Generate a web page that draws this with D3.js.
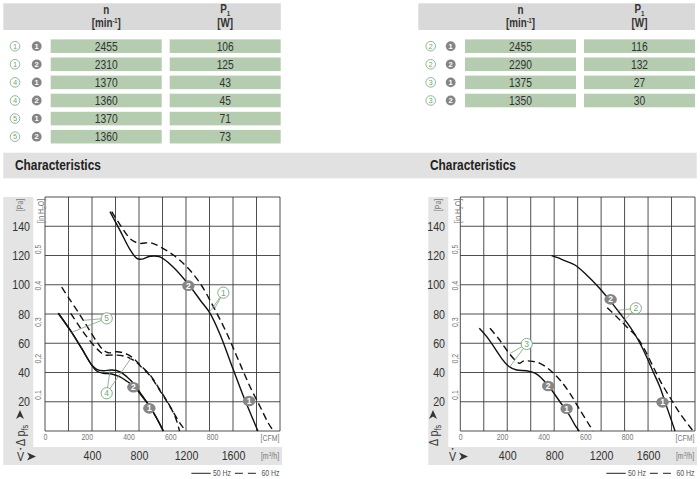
<!DOCTYPE html>
<html>
<head>
<meta charset="utf-8">
<script src="https://cdn.jsdelivr.net/npm/d3@7"></script>
<style>
  body { margin: 0; background: #fff; }
  svg { font-family: 'Liberation Sans', Arial, sans-serif; }
</style>
</head>
<body>
<svg id="chart" width="700" height="479"></svg>
<script>
// ---- table data ----
var leftFans = [1, 1, 4, 4, 5, 5];
var leftPoints = [1, 2, 1, 2, 1, 2];
var leftSpeed = [2455, 2310, 1370, 1360, 1370, 1360];
var leftPower = [106, 125, 43, 45, 71, 73];

var rightFans = [2, 2, 3, 3];
var rightPoints = [1, 2, 1, 2];
var rightSpeed = [2455, 2290, 1375, 1350];
var rightPower = [116, 132, 27, 30];

// ---- axis ticks ----
var paTicks = [20, 40, 60, 80, 100, 120, 140];
var inH2OTicks = [0.1, 0.2, 0.3, 0.4, 0.5];
var cfmTicks = [0, 200, 400, 600, 800];
var m3hTicks = [400, 800, 1200, 1600];
var gridFlow = d3.range(0, 2001, 200);
var gridPa = d3.range(0, 161, 20);

// ---- curves, [m3/h, Pa] ----
var fan1Solid = [[553,150],[639,137],[724,124],[781,118],[823,117.5],[894,119.5],[979,119],[1092,112],[1224,100],[1320,89.6],[1405,80.5],[1490,66],[1600,42.5],[1700,21.5],[1770,8],[1812,0]];
var fan1Dashed = [[568,150],[639,141],[738,130.6],[809,128.3],[894,128.8],[979,126],[1092,120.3],[1206,112.3],[1320,101],[1433,85],[1547,66.8],[1646,48.5],[1745,30.3],[1831,16.6],[1901,5.3],[1944,0]];
var fan45SolidA = [[113,80.5],[213,69.1],[312,56.5],[398,45.1],[440,42.2],[496,41.2],[568,41.7],[639,40.5],[696,37.1],[752,32.6],[823,24.6],[894,16.6],[951,8.7],[1009,0]];
var fan45SolidB = [[113,80.5],[213,69.1],[312,56.5],[398,45.1],[440,41],[496,39.4],[568,39],[639,37],[696,34],[752,31],[823,24],[894,16.4],[951,8.6],[1005,0]];
var fan45DashedA = [[142,98.3],[213,89.6],[298,79.3],[369,70.2],[440,61.1],[496,55.4],[539,53.5],[610,54.2],[696,52.6],[752,49.7],[809,45.1],[894,38.3],[979,28],[1050,18.9],[1107,10.9],[1160,4],[1200,0]];
var fan45DashedB = [[219,80.5],[284,72.5],[355,64.5],[426,57.6],[468,54.2],[511,52],[582,52],[667,51.3],[724,49.7],[780,47],[809,44.6],[894,37.8],[979,27.5],[1050,18.5],[1107,10],[1145,0]];

var fan2Solid = [[778,119.9],[830,118.5],[877,116.9],[977,113.5],[1076,106.7],[1175,98.7],[1260,90.7],[1360,80.5],[1445,71.3],[1516,62.2],[1587,50.8],[1643,40.5],[1700,30.3],[1757,17],[1800,7],[1830,0]];
var fan2Dashed = [[1252,84.3],[1332,78.2],[1417,71.3],[1502,64.5],[1573,55.4],[1643,44],[1715,32.6],[1800,21.2],[1871,12.1],[1956,2.9],[1984,0]];
var fan3Solid = [[162,70.2],[225,64.5],[295,56.5],[352,49.7],[409,44.4],[480,41.7],[565,41.2],[636,39.5],[707,34.9],[778,28],[849,20],[920,12.1],[977,4.1],[1013,0]];
var fan3Dashed = [[253,70.2],[324,63.4],[395,55.4],[466,48.5],[505,46.3],[536,47.8],[593,47.8],[679,46.3],[764,41.7],[849,34.9],[934,25.8],[1019,14.4],[1090,5.3],[1132,0]];

// ---- curve labels ----
var greyLeft = [[1220,99.4,"2"],[1737,20.5,"1"],[752,29.9,"2"],[888,15.5,"1"]];
var greenLeft = [
  {x: 1518, y: 94.6, t: "1", ends: [[1400,81.3],[1445,84]]},
  {x: 525, y: 77, t: "5", ends: [[227,67.5],[326,75.7]]},
  {x: 525, y: 25.8, t: "4", ends: [[553,41],[738,50.5]]}
];
var greyRight = [[1281,90,"2"],[1723,19.6,"1"],[749,30.8,"2"],[906,15.2,"1"]];
var greenRight = [
  {x: 1496, y: 83.9, t: "2", ends: [[1340,82.5],[1380,74.3]]},
  {x: 566, y: 59.5, t: "3", ends: [[423,53],[423,44]]}
];

var svg = d3.select("#chart");
var textCol = "#333";
var green = "#76a57b";
var greyDot = "#858585";
var cellGreen = "#b5ccb1";
var bandGrey = "#e4e4e4";
var NARROW = 0.82;   // the sheet uses a condensed face

// text placed with a horizontal squeeze
function label(g, x, y, size, fill, anchor) {
  return g.append("text")
    .attr("transform", "translate(" + x + "," + y + ") scale(" + NARROW + ",1)")
    .attr("text-anchor", anchor || "start")
    .attr("font-size", size)
    .attr("fill", fill);
}

// ---------- tables ----------
function drawTable(cfg, fans, points, speed, power) {
  var n = fans.length, step = 18.1;
  var rowY = d3.scaleBand()
    .domain(d3.range(n))
    .range([39.4, 39.4 + step * (n - 0.25)])
    .paddingInner(0.25);

  var g = svg.append("g");
  g.append("rect").attr("x", cfg.headX).attr("y", 3.3)
    .attr("width", cfg.headW).attr("height", 26.7).attr("fill", "#d9d9d9");

  var c1 = cfg.col1 + cfg.colW / 2, c2 = cfg.col2 + cfg.colW / 2;
  label(g, c1, 13.5, 12, textCol, "middle").attr("font-weight", "bold").text("n");
  var t = label(g, c1, 26.5, 12, textCol, "middle").attr("font-weight", "bold");
  t.append("tspan").text("[min");
  t.append("tspan").attr("dy", -4).attr("font-size", 7).text("-1");
  t.append("tspan").attr("dy", 4).text("]");
  var p = label(g, c2, 12.5, 12, textCol, "middle").attr("font-weight", "bold");
  p.append("tspan").text("P");
  p.append("tspan").attr("dy", 3).attr("font-size", 7.5).text("1");
  label(g, c2, 26.5, 12, textCol, "middle").attr("font-weight", "bold").text("[W]");

  var rows = g.selectAll(".row").data(d3.range(n)).enter().append("g")
    .attr("transform", function(i) { return "translate(0," + rowY(i) + ")"; });
  var h = rowY.bandwidth();

  rows.append("rect").attr("x", cfg.col1).attr("width", cfg.colW).attr("height", h).attr("fill", cellGreen);
  rows.append("rect").attr("x", cfg.col2).attr("width", cfg.colW).attr("height", h).attr("fill", cellGreen);
  rows.each(function(i) {
    var r = d3.select(this);
    label(r, c1, h / 2 + 4.4, 12.5, textCol, "middle").text(speed[i]);
    label(r, c2, h / 2 + 4.4, 12.5, textCol, "middle").text(power[i]);
  });

  rows.append("circle").attr("cx", cfg.ring).attr("cy", h / 2).attr("r", 4.8)
    .attr("fill", "#fff").attr("stroke", green).attr("stroke-width", 0.8);
  rows.append("text").attr("x", cfg.ring).attr("y", h / 2 + 2.8).attr("text-anchor", "middle")
    .attr("font-size", 7.5).attr("fill", green).text(function(i) { return fans[i]; });
  rows.append("circle").attr("cx", cfg.dot).attr("cy", h / 2).attr("r", 4.9).attr("fill", greyDot);
  rows.append("text").attr("x", cfg.dot).attr("y", h / 2 + 2.8).attr("text-anchor", "middle")
    .attr("font-size", 7.5).attr("font-weight", "bold").attr("fill", "#fff").text(function(i) { return points[i]; });
}

drawTable({headX: 3.3, headW: 277.5, col1: 50.7, col2: 169.7, colW: 111, ring: 15, dot: 36.7},
  leftFans, leftPoints, leftSpeed, leftPower);
drawTable({headX: 418.3, headW: 276.7, col1: 465, col2: 584, colW: 111, ring: 430.7, dot: 450.7},
  rightFans, rightPoints, rightSpeed, rightPower);

// ---------- characteristics band ----------
svg.append("rect").attr("x", 3.3).attr("y", 152.7).attr("width", 693.4).attr("height", 25.6).attr("fill", "#e1e1e1");
[15, 430].forEach(function(x) {
  label(svg, x, 170, 14.5, "#222").attr("font-weight", "bold").text("Characteristics");
});

// ---------- charts ----------
function arrowDart(g, x, y, dir) {
  var d = dir === "right"
    ? "M" + x + "," + (y - 4) + "L" + (x + 9) + "," + y + "L" + x + "," + (y + 4) + "L" + (x + 2.5) + "," + y + "Z"
    : "M" + (x - 4) + "," + y + "L" + x + "," + (y - 9) + "L" + (x + 4) + "," + y + "L" + x + "," + (y - 2.5) + "Z";
  g.append("path").attr("d", d).attr("fill", "#333");
}

function drawChart(cfg) {
  var x = d3.scaleLinear().domain([0, 2000]).range([cfg.left, cfg.right]);
  var y = d3.scaleLinear().domain([0, 160]).range([431, 197]);
  var yIn = d3.scaleLinear().domain([0, 160 / 249.09]).range([431, 197]);
  var cfm = d3.scaleLinear().domain([0, 1126]).range([cfg.left, cfg.right]);

  var g = svg.append("g");

  // grey bands
  g.append("rect").attr("x", cfg.band).attr("y", 197).attr("width", cfg.bandW).attr("height", 250).attr("fill", bandGrey);
  g.append("rect").attr("x", cfg.band).attr("y", 447).attr("width", cfg.right + 2 - cfg.band).attr("height", 18).attr("fill", bandGrey);

  // grid
  g.selectAll(".gx").data(gridFlow).enter().append("line")
    .attr("x1", function(d) { return x(d); }).attr("x2", function(d) { return x(d); })
    .attr("y1", y(0)).attr("y2", y(160)).attr("stroke", "#3a3a3a").attr("stroke-width", 0.9);
  g.selectAll(".gy").data(gridPa).enter().append("line")
    .attr("y1", function(d) { return y(d); }).attr("y2", function(d) { return y(d); })
    .attr("x1", x(0)).attr("x2", x(2000)).attr("stroke", "#3a3a3a").attr("stroke-width", 0.9);

  // Pa axis
  var pa = g.append("g").attr("transform", "translate(" + cfg.paX + ",0)")
    .call(d3.axisLeft(y).tickValues(paTicks).tickSize(0).tickPadding(0));
  pa.select(".domain").remove();
  pa.selectAll("text").attr("font-size", 13).attr("fill", textCol).attr("font-family", null)
    .attr("transform", "scale(" + NARROW + ",1)");

  // in H2O axis
  var ih = g.append("g").attr("transform", "translate(" + cfg.inX + ",0)")
    .call(d3.axisLeft(yIn).tickValues(inH2OTicks).tickSize(0)
      .tickFormat(function(d) { return d3.format(".1f")(d).replace(".", ","); }));
  ih.select(".domain").remove();
  ih.selectAll("text").attr("x", 0).attr("dy", null).attr("text-anchor", "middle")
    .attr("transform", "rotate(-90) scale(" + NARROW + ",1)").attr("font-size", 8.5).attr("fill", "#777").attr("font-family", null);

  // CFM axis
  var xc = g.append("g").attr("transform", "translate(0,431)")
    .call(d3.axisBottom(cfm).tickValues(cfmTicks).tickSize(0).tickPadding(3));
  xc.select(".domain").remove();
  xc.selectAll("text").attr("font-size", 8.5).attr("fill", "#777").attr("font-family", null)
    .attr("transform", "scale(" + NARROW + ",1)");

  // m3/h axis
  var xm = g.append("g").attr("transform", "translate(0,447)")
    .call(d3.axisBottom(x).tickValues(m3hTicks).tickSize(0).tickPadding(4).tickFormat(d3.format("d")));
  xm.select(".domain").remove();
  xm.selectAll("text").attr("font-size", 13).attr("fill", textCol).attr("font-family", null)
    .attr("transform", "scale(" + NARROW + ",1)");

  // unit labels
  label(g, cfg.right - 10, 441, 8.5, "#777", "middle").text("[CFM]");
  var mu = label(g, cfg.right - 10, 459, 8.5, "#777", "middle");
  mu.append("tspan").text("[m");
  mu.append("tspan").attr("dy", -3).attr("font-size", 6).text("3");
  mu.append("tspan").attr("dy", 3).text("/h]");

  g.append("text").attr("transform", "translate(" + (cfg.paCenter + 3) + ",205) rotate(-90) scale(" + NARROW + ",1)")
    .attr("text-anchor", "middle").attr("font-size", 8.5).attr("fill", "#777").text("[Pa]");
  var inu = g.append("text").attr("transform", "translate(" + (cfg.inX + 3) + ",211) rotate(-90) scale(" + NARROW + ",1)")
    .attr("text-anchor", "middle").attr("font-size", 8.5).attr("fill", "#777");
  inu.append("tspan").text("[in H");
  inu.append("tspan").attr("dy", 2).attr("font-size", 6).text("2");
  inu.append("tspan").attr("dy", -2).text("O]");

  // delta p label
  var dp = g.append("text").attr("transform", "translate(" + (cfg.dpX + 5) + ",446) rotate(-90) scale(" + NARROW + ",1)")
    .attr("font-size", 13).attr("fill", textCol);
  dp.append("tspan").text("\u0394 p");
  dp.append("tspan").attr("dy", 3).attr("font-size", 9).text("fs");
  arrowDart(g, cfg.dpX, 419, "up");

  // V dot label
  label(g, cfg.vX, 461, 13, textCol).text("V");
  g.append("circle").attr("cx", cfg.vX + 3.6).attr("cy", 448.8).attr("r", 0.9).attr("fill", textCol);
  arrowDart(g, cfg.vX + 10, 456.5, "right");

  // curves
  var line = d3.line()
    .x(function(d) { return x(d[0]); })
    .y(function(d) { return y(d[1]); })
    .curve(d3.curveCatmullRom.alpha(0.5));
  cfg.curves.forEach(function(c) {
    g.append("path").datum(c.data).attr("d", line).attr("fill", "none")
      .attr("stroke", "#111").attr("stroke-width", 1.4)
      .attr("stroke-dasharray", c.dashed ? "7,4" : null);
  });

  // green curve tags with leaders
  cfg.green.forEach(function(l) {
    l.ends.forEach(function(e) {
      g.append("line").attr("x1", x(l.x)).attr("y1", y(l.y)).attr("x2", x(e[0])).attr("y2", y(e[1]))
        .attr("stroke", green).attr("stroke-width", 0.8);
    });
    g.append("circle").attr("cx", x(l.x)).attr("cy", y(l.y)).attr("r", 5.6)
      .attr("fill", "#fff").attr("stroke", green).attr("stroke-width", 0.9);
    g.append("text").attr("x", x(l.x)).attr("y", y(l.y) + 3).attr("text-anchor", "middle")
      .attr("font-size", 8.5).attr("fill", green).text(l.t);
  });

  // grey operating point tags
  cfg.grey.forEach(function(l) {
    g.append("ellipse").attr("cx", x(l[0])).attr("cy", y(l[1])).attr("rx", 6.2).attr("ry", 5.3).attr("fill", greyDot);
    g.append("text").attr("x", x(l[0])).attr("y", y(l[1]) + 3).attr("text-anchor", "middle")
      .attr("font-size", 8.5).attr("font-weight", "bold").attr("fill", "#fff").text(l[2]);
  });

  // legend
  var lx = cfg.right - 88.6, ly = 473.3;
  g.append("line").attr("x1", lx).attr("x2", lx + 19.3).attr("y1", ly).attr("y2", ly).attr("stroke", "#222").attr("stroke-width", 1);
  label(g, lx + 21.5, ly + 2.8, 8.5, "#555").text("50 Hz");
  g.append("line").attr("x1", lx + 43.5).attr("x2", lx + 66.5).attr("y1", ly).attr("y2", ly).attr("stroke", "#222")
    .attr("stroke-width", 1).attr("stroke-dasharray", "8,5");
  label(g, lx + 70, ly + 2.8, 8.5, "#555").text("60 Hz");
}

drawChart({
  left: 45, right: 280, band: 3.3, bandW: 30, paX: 30, paCenter: 20, inX: 41, dpX: 20, vX: 17,
  curves: [
    {data: fan1Solid}, {data: fan1Dashed, dashed: true},
    {data: fan45SolidA}, {data: fan45SolidB},
    {data: fan45DashedA, dashed: true}, {data: fan45DashedB, dashed: true}
  ],
  green: greenLeft, grey: greyLeft
});

drawChart({
  left: 460.3, right: 695, band: 428.3, bandW: 20, paX: 445, paCenter: 438, inX: 458, dpX: 433, vX: 449,
  curves: [
    {data: fan2Solid}, {data: fan2Dashed, dashed: true},
    {data: fan3Solid}, {data: fan3Dashed, dashed: true}
  ],
  green: greenRight, grey: greyRight
});
</script>
</body>
</html>
